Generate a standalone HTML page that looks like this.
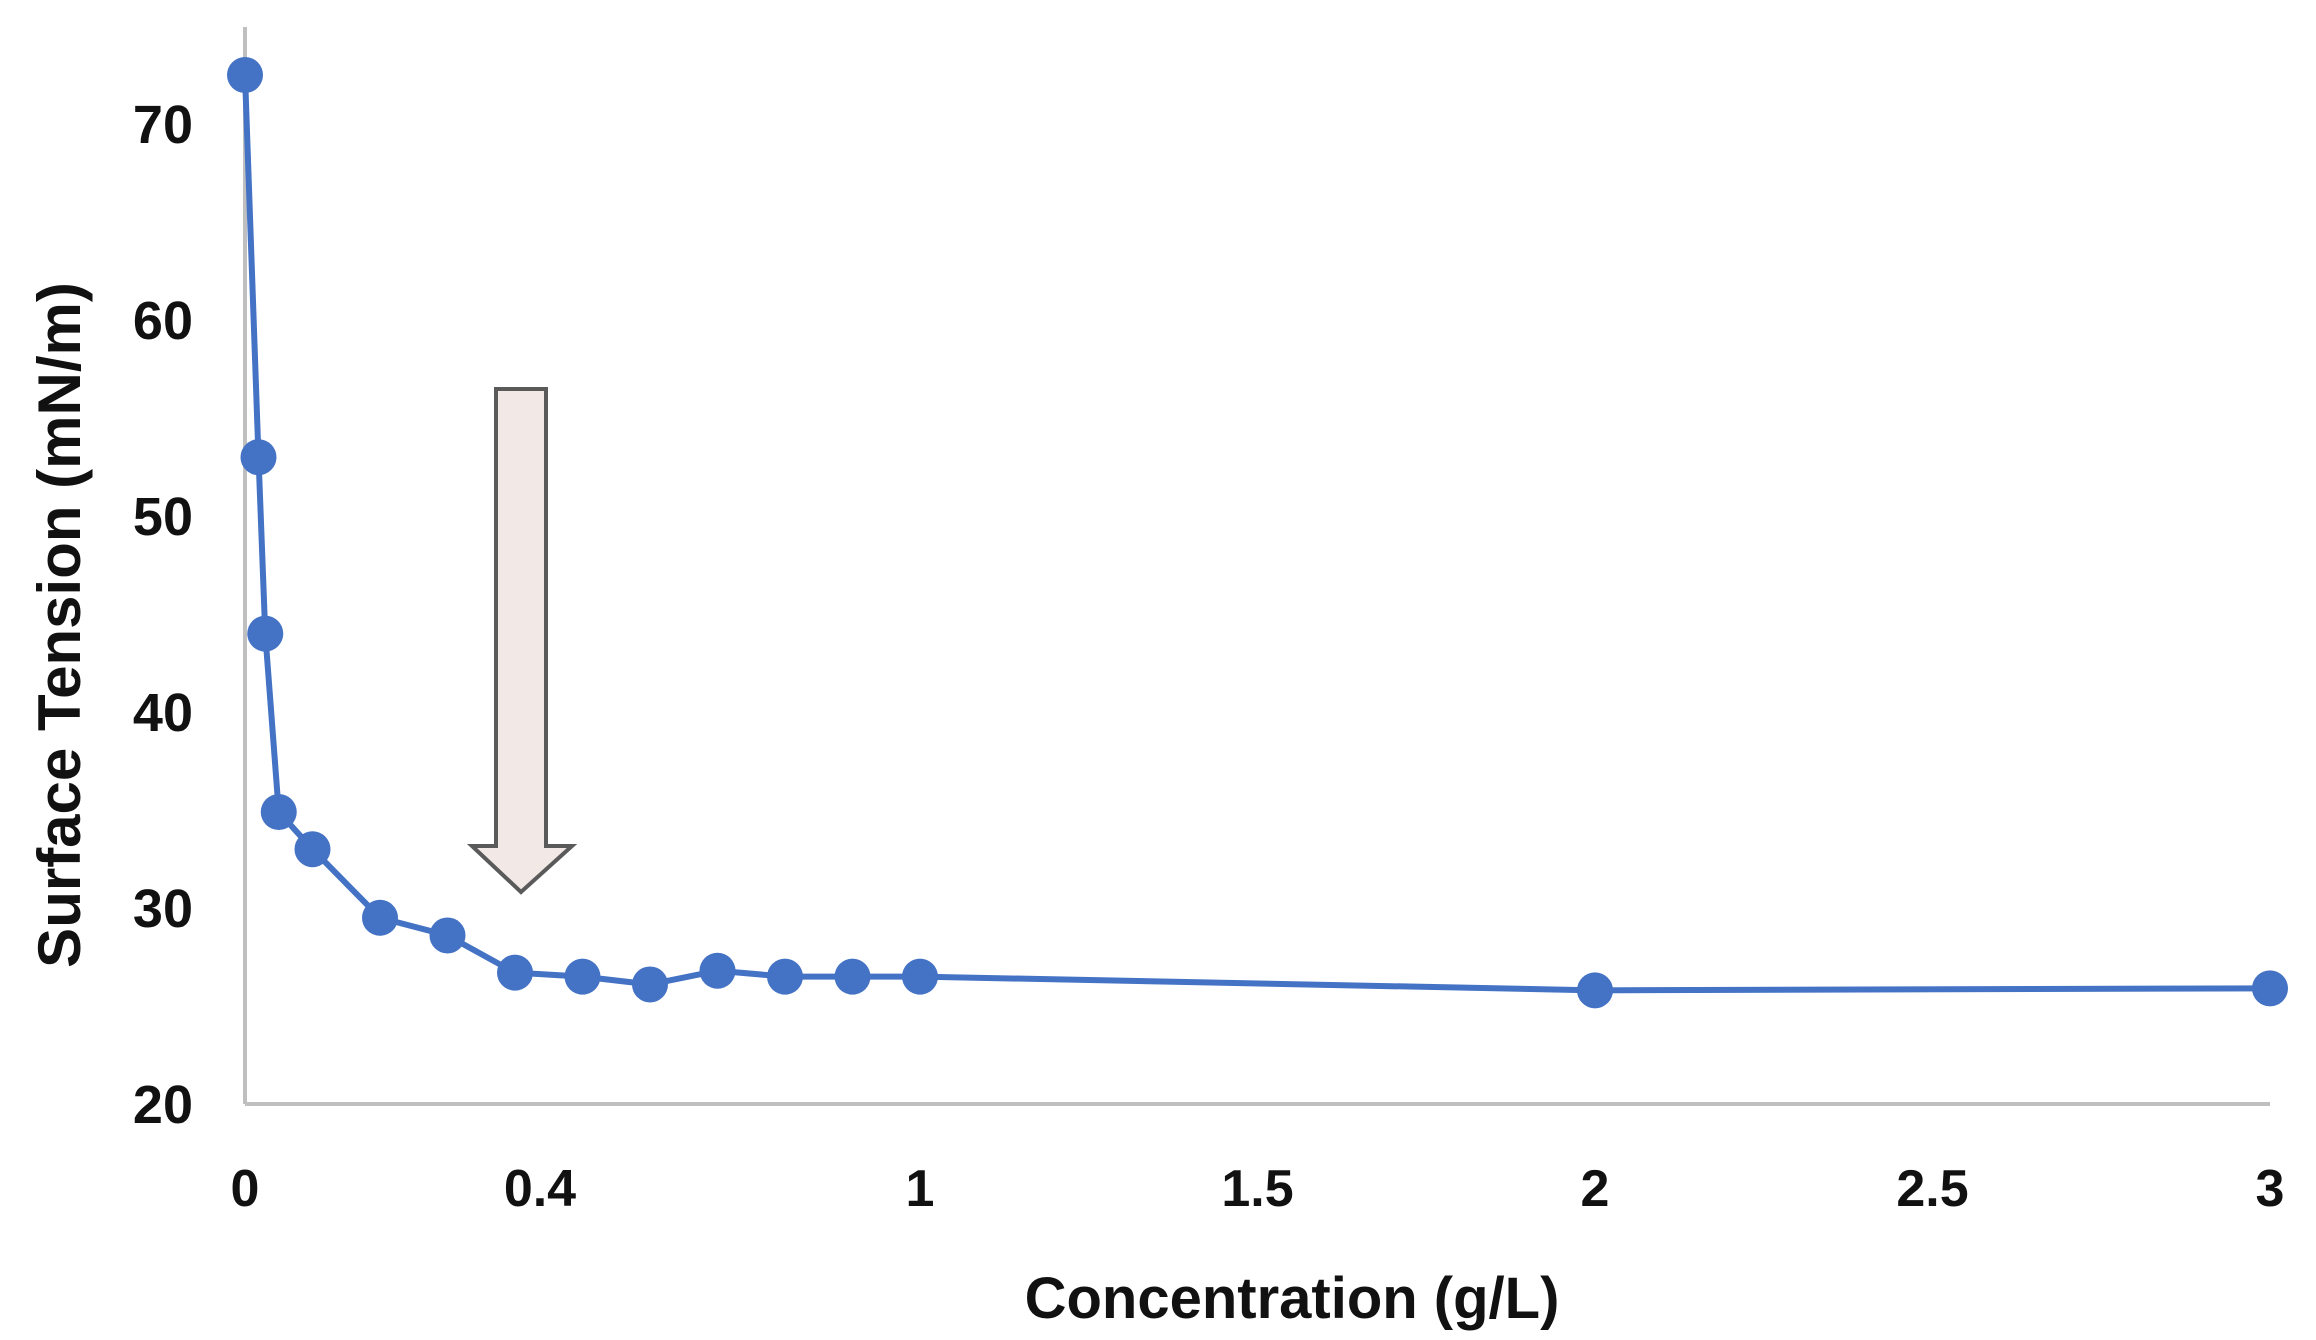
<!DOCTYPE html>
<html><head><meta charset="utf-8"><style>
html,body{margin:0;padding:0;background:#fff;}
svg{display:block;}
</style></head><body>
<svg id="chart" width="2316" height="1340" viewBox="0 0 2316 1340" xmlns="http://www.w3.org/2000/svg">
<g id="axes"></g>
<g id="series"></g>
<g>
<path d="M496,389 L546,389 L546,846 L572,846 L521,892 L472,846 L496,846 Z" fill="#f2e8e6" stroke="#5a5a5a" stroke-width="4"/>
</g>
<text x="1292" y="1318" text-anchor="middle" font-family="'Liberation Sans',sans-serif" font-weight="bold" font-size="58" fill="#111">Concentration  (g/L)</text>
<text transform="translate(80,625) rotate(-90)" text-anchor="middle" font-family="'Liberation Sans',sans-serif" font-weight="bold" font-size="60" fill="#111">Surface Tension (mN/m)</text>
</svg>
<script>
const concentrations = [0, 0.02, 0.03, 0.05, 0.1, 0.2, 0.3, 0.4, 0.5, 0.6, 0.7, 0.8, 0.9, 1, 2, 3];
const tensions = [72.5, 53.0, 44.0, 34.9, 33.0, 29.5, 28.6, 26.7, 26.5, 26.1, 26.8, 26.5, 26.5, 26.5, 25.8, 25.9];
const yTicks = [20, 30, 40, 50, 60, 70];
const xTickValues = [0, 0.437, 1, 1.5, 2, 2.5, 3];
const xTickLabels = ["0", "0.4", "1", "1.5", "2", "2.5", "3"];

const NS = "http://www.w3.org/2000/svg";
const X0 = 245, X1 = 2270, Y20 = 1104, PER10 = 196;
function xScale(v){ return X0 + (X1 - X0) * v / 3; }
function yScale(v){ return Y20 - (v - 20) * PER10 / 10; }
function mk(tag, attrs, parent){ const e = document.createElementNS(NS, tag); for (const k in attrs) e.setAttribute(k, attrs[k]); parent.appendChild(e); return e; }

const axes = document.getElementById('axes');
const yAxis = mk('line', {x1: X0, y1: 27, x2: X0, y2: Y20, stroke: '#bfbfbf', 'stroke-width': 4}, axes);


const xAxis = mk('line', {x1: X0, y1: Y20, x2: X1, y2: Y20, stroke: '#bfbfbf', 'stroke-width': 4}, axes);



yTicks.forEach(v => {
  const t = mk('text', {x: 193, y: yScale(v) + 19, 'text-anchor': 'end', 'font-family': "'Liberation Sans',sans-serif", 'font-weight': 'bold', 'font-size': 54, fill: '#111'}, axes);
  t.textContent = String(v);
  
  
});
xTickValues.forEach((v, i) => {
  const t = mk('text', {x: xScale(v), y: 1206, 'text-anchor': 'middle', 'font-family': "'Liberation Sans Narrow','Liberation Sans',sans-serif", 'font-weight': 'bold', 'font-size': 52, fill: '#111'}, axes);
  t.textContent = xTickLabels[i];
  
  
});

const series = document.getElementById('series');
const pts = concentrations.map((c, i) => xScale(c) + ',' + yScale(tensions[i])).join(' ');
const line = mk('polyline', {points: pts, fill: 'none', stroke: '#4472c4', 'stroke-width': 6, 'stroke-linejoin': 'round'}, series);


concentrations.forEach((c, i) => {
  const p = mk('circle', {cx: xScale(c), cy: yScale(tensions[i]), r: 18, fill: '#4472c4'}, series);
  
  
});
</script>
</body></html>
